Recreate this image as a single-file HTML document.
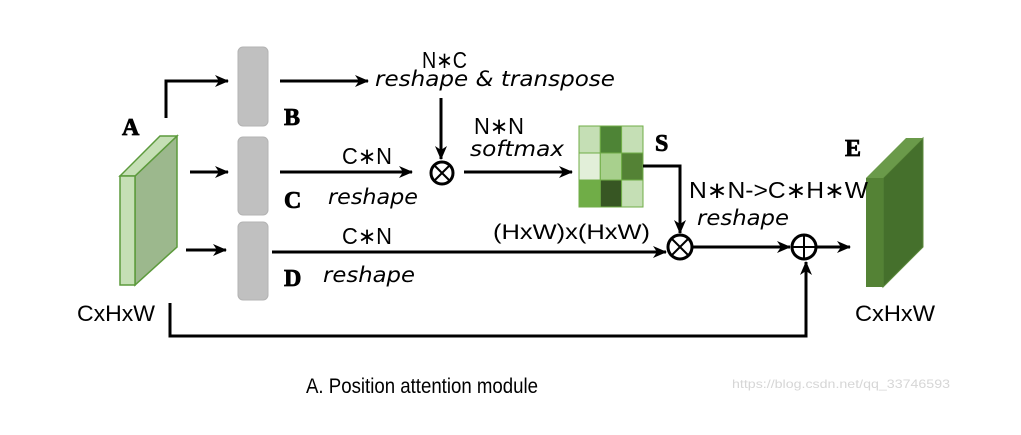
<!DOCTYPE html>
<html><head><meta charset="utf-8"><style>
html,body{margin:0;padding:0;background:#fff;}
svg{display:block;}
.s{font-family:"Liberation Sans",sans-serif;fill:#000;}
.i{font-family:"DejaVu Sans","Liberation Sans",sans-serif;font-style:italic;fill:#000;}
.b{font-family:"Liberation Serif",serif;font-weight:bold;fill:#000;stroke:#000;stroke-width:0.8;}
</style></head><body>
<svg width="1021" height="435" viewBox="0 0 1021 435" xmlns="http://www.w3.org/2000/svg">
<defs>
<marker id="al" markerWidth="14" markerHeight="12" refX="13" refY="6" orient="auto" markerUnits="userSpaceOnUse"><path d="M0,0 L14,6 L0,12 L4,6 z" fill="#000"/></marker></defs>
<rect width="1021" height="435" fill="#fff"/>
<!-- cube A -->
<polygon points="135,176 177,136 177,247 135,285" fill="#9cb88d" stroke="#5c9a3c" stroke-width="1.5"/>
<polygon points="120,176 160,136 177,136 135,176" fill="#c5dfb5" stroke="#5c9a3c" stroke-width="1.5"/>
<rect x="120" y="176" width="15" height="109" fill="#c5dfb5" stroke="#5c9a3c" stroke-width="1.5"/>
<!-- cube E -->
<polygon points="883,178 923,138 923,247 883,287" fill="#45702c" stroke="#5c8a3c" stroke-width="1"/>
<polygon points="866,178 906,138 923,138 883,178" fill="#6a9a4a"/>
<rect x="866" y="178" width="17" height="109" fill="#548235"/>
<!-- bars -->
<rect x="238" y="47" width="30" height="79" rx="5" fill="#c0c0c0" stroke="#b3b3b3"/>
<rect x="238" y="137" width="30" height="78" rx="5" fill="#c0c0c0" stroke="#b3b3b3"/>
<rect x="238" y="222" width="30" height="78" rx="5" fill="#c0c0c0" stroke="#b3b3b3"/>
<!-- matrix S -->
<g stroke="#70ad47" stroke-width="1">
<rect x="579" y="126" width="21.3" height="27" fill="#c5dfb5"/><rect x="600.3" y="126" width="21.3" height="27" fill="#4e8436"/><rect x="621.6" y="126" width="21.4" height="27" fill="#c5dfb5"/>
<rect x="579" y="153" width="21.3" height="27" fill="#e2efd9"/><rect x="600.3" y="153" width="21.3" height="27" fill="#a8d08d"/><rect x="621.6" y="153" width="21.4" height="27" fill="#548235"/>
<rect x="579" y="180" width="21.3" height="27" fill="#70ad47"/><rect x="600.3" y="180" width="21.3" height="27" fill="#375623"/><rect x="621.6" y="180" width="21.4" height="27" fill="#c5dfb5"/>
</g>
<!-- arrows -->
<g stroke="#000" stroke-width="3" fill="none">
<polyline points="166,118 166,81 228,81" marker-end="url(#al)"/>
<line x1="190" y1="172" x2="228" y2="172" marker-end="url(#al)"/>
<line x1="186" y1="250" x2="226" y2="250" marker-end="url(#al)"/>
<line x1="280" y1="81" x2="368" y2="81" marker-end="url(#al)"/>
<line x1="441" y1="98" x2="441" y2="159" marker-end="url(#al)"/>
<line x1="280" y1="172" x2="412" y2="172" marker-end="url(#al)"/>
<line x1="464" y1="172" x2="572" y2="172" marker-end="url(#al)"/>
<polyline points="643,166 680,166 680,233" marker-end="url(#al)"/>
<line x1="272" y1="252" x2="666" y2="252" marker-end="url(#al)"/>
<line x1="693" y1="247" x2="790" y2="247" marker-end="url(#al)"/>
<line x1="817" y1="247" x2="850" y2="247" marker-end="url(#al)"/>
<polyline points="170,303 170,336 806,336 806,262" marker-end="url(#al)"/>
<circle cx="442" cy="173" r="11"/>
<line x1="434" y1="165" x2="450" y2="181" stroke-width="2"/><line x1="450" y1="165" x2="434" y2="181" stroke-width="2"/>
<circle cx="680" cy="247" r="12"/>
<line x1="672" y1="239" x2="688" y2="255" stroke-width="2"/><line x1="688" y1="239" x2="672" y2="255" stroke-width="2"/>
<circle cx="804" cy="247" r="12"/>
<line x1="792" y1="247" x2="816" y2="247" stroke-width="2"/><line x1="804" y1="235" x2="804" y2="259" stroke-width="2"/>
</g>
<!-- labels -->
<text class="b" x="122" y="135" font-size="24">A</text>
<text class="b" x="284" y="125" font-size="24">B</text>
<text class="b" x="284" y="208" font-size="24">C</text>
<text class="b" x="284" y="286" font-size="24">D</text>
<text class="b" x="655" y="151" font-size="24">S</text>
<text class="b" x="845" y="156" font-size="24">E</text>
<text class="s" x="422" y="68" font-size="23" textLength="45" lengthAdjust="spacingAndGlyphs">N∗C</text>
<text class="i" x="375" y="86" font-size="21" textLength="240" lengthAdjust="spacingAndGlyphs">reshape &amp; transpose</text>
<text class="s" x="474" y="134" font-size="23" textLength="50" lengthAdjust="spacingAndGlyphs">N∗N</text>
<text class="i" x="470" y="156" font-size="21" textLength="94" lengthAdjust="spacingAndGlyphs">softmax</text>
<text class="s" x="342" y="164" font-size="23" textLength="50" lengthAdjust="spacingAndGlyphs">C∗N</text>
<text class="i" x="328" y="204" font-size="21" textLength="90" lengthAdjust="spacingAndGlyphs">reshape</text>
<text class="s" x="342" y="244" font-size="23" textLength="50" lengthAdjust="spacingAndGlyphs">C∗N</text>
<text class="i" x="323" y="282" font-size="21" textLength="92" lengthAdjust="spacingAndGlyphs">reshape</text>
<text class="s" x="493" y="239" font-size="21" textLength="157" lengthAdjust="spacingAndGlyphs">(HxW)x(HxW)</text>
<text class="s" x="689" y="198" font-size="23" textLength="179" lengthAdjust="spacingAndGlyphs">N∗N-&gt;C∗H∗W</text>
<text class="i" x="697" y="225" font-size="21" textLength="92" lengthAdjust="spacingAndGlyphs">reshape</text>
<text class="s" x="77" y="321" font-size="22" textLength="78" lengthAdjust="spacingAndGlyphs">CxHxW</text>
<text class="s" x="855" y="321" font-size="22" textLength="80" lengthAdjust="spacingAndGlyphs">CxHxW</text>
<text class="s" x="306" y="393" font-size="21" textLength="232" lengthAdjust="spacingAndGlyphs">A. Position attention module</text>
<text class="s" x="732" y="388" font-size="12" style="fill:#d6d6d6" textLength="218" lengthAdjust="spacingAndGlyphs">https://blog.csdn.net/qq_33746593</text>
</svg>
</body></html>
